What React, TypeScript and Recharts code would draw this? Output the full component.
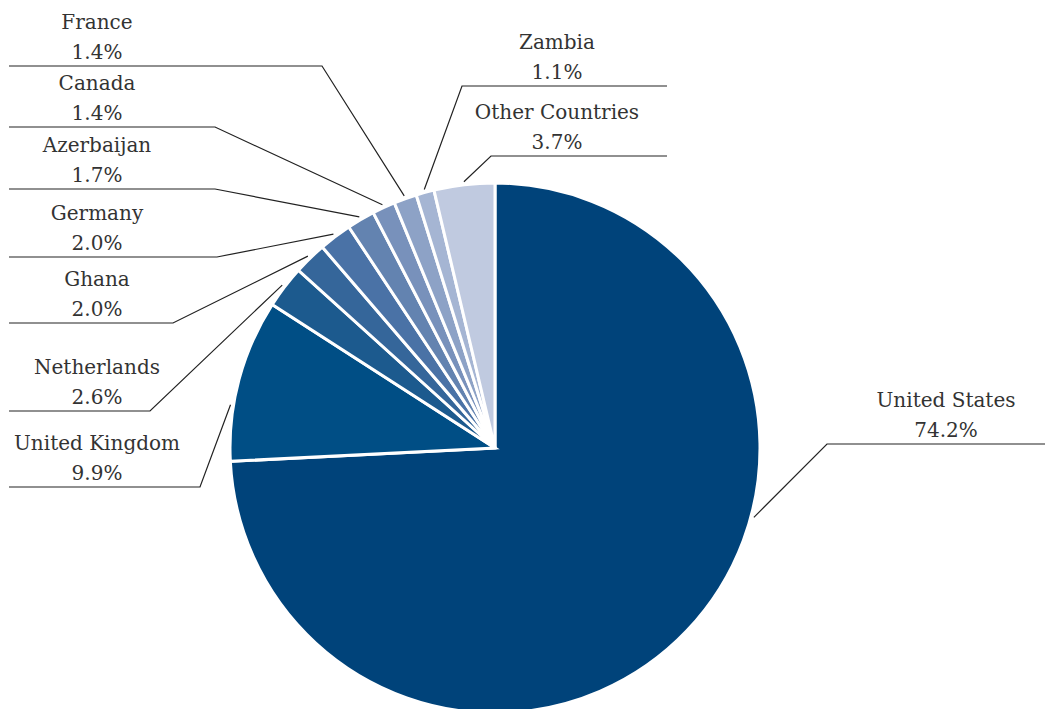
import React from 'react';
import { PieChart, Pie, Cell } from 'recharts';

const countries = [
  'United States',
  'United Kingdom',
  'Netherlands',
  'Ghana',
  'Germany',
  'Azerbaijan',
  'Canada',
  'France',
  'Zambia',
  'Other Countries',
];
const shares = [74.2, 9.9, 2.6, 2.0, 2.0, 1.7, 1.4, 1.4, 1.1, 3.7];
const colors = [
  '#00437a',
  '#004e85',
  '#1c5a8e',
  '#35669a',
  '#4a72a6',
  '#6383b0',
  '#7891bb',
  '#8da2c6',
  '#a5b5d3',
  '#c0cae0',
];

// label layout (leader knee, underline, text centre); anchorAngle overrides mid-angle
const labelLayout: { anchorAngle?: number; kneeX: number; lineY: number; endX: number; textX: number }[] = [
  { anchorAngle: -15, kneeX: 827, lineY: 444, endX: 1045, textX: 946 },
  { anchorAngle: 170.7, kneeX: 200, lineY: 487, endX: 9, textX: 97 },
  { kneeX: 150, lineY: 411, endX: 9, textX: 97 },
  { kneeX: 173, lineY: 323, endX: 9, textX: 97 },
  { kneeX: 217, lineY: 257, endX: 9, textX: 97 },
  { kneeX: 215, lineY: 189, endX: 9, textX: 97 },
  { kneeX: 215, lineY: 127, endX: 9, textX: 97 },
  { kneeX: 322, lineY: 66, endX: 9, textX: 97 },
  { kneeX: 462, lineY: 86, endX: 667, textX: 557 },
  { kneeX: 491, lineY: 156, endX: 667, textX: 557 },
];

const data = countries.map((name, i) => ({ name, value: shares[i] }));

const RAD = Math.PI / 180;
const FONT = '"DejaVu Serif", serif';

const renderLabel = (props: any) => {
  const { cx, cy, midAngle, outerRadius, index, value, name } = props;
  const l = labelLayout[index];
  const ang = l.anchorAngle !== undefined ? l.anchorAngle : midAngle;
  const r = outerRadius + 3;
  const x0 = cx + r * Math.cos(-ang * RAD);
  const y0 = cy + r * Math.sin(-ang * RAD);
  return (
    <g key={`lbl-${index}`}>
      <polyline
        points={`${x0},${y0} ${l.kneeX},${l.lineY} ${l.endX},${l.lineY}`}
        fill="none"
        stroke="#222"
        strokeWidth={1.2}
      />
      <text x={l.textX} y={l.lineY - 37} textAnchor="middle" fill="#333" fontFamily={FONT} fontSize={20}>
        {name}
      </text>
      <text x={l.textX} y={l.lineY - 7} textAnchor="middle" fill="#333" fontFamily={FONT} fontSize={20}>
        {`${Number(value).toFixed(1)}%`}
      </text>
    </g>
  );
};

export default function App() {
  return (
    <div style={{ position: 'absolute', left: 0, top: 0, width: 1045, height: 709, background: '#fff' }}>
      <style>{`body{margin:0}`}</style>
      <PieChart width={1045} height={709} margin={{ top: 0, right: 0, bottom: 0, left: 0 }}>
        <Pie
          data={data}
          dataKey="value"
          nameKey="name"
          cx={495}
          cy={448}
          outerRadius={265}
          startAngle={90}
          endAngle={-270}
          stroke="#fff"
          strokeWidth={3}
          isAnimationActive={false}
          labelLine={false}
          label={renderLabel}
        >
          {data.map((d, i) => (
            <Cell key={d.name} fill={colors[i]} />
          ))}
        </Pie>
      </PieChart>
    </div>
  );
}
